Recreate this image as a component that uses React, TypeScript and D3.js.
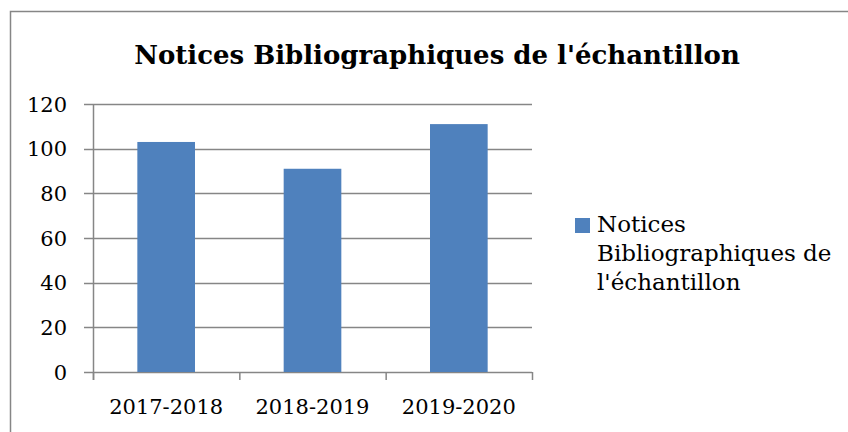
import React from "react";
import * as d3 from "d3";

const categories = ["2017-2018", "2018-2019", "2019-2020"];
const values = [103, 91, 111];
const yTicks = [0, 20, 40, 60, 80, 100, 120];
const seriesName = "Notices Bibliographiques de l'échantillon";
const legendLines = ["Notices", "Bibliographiques de", "l'échantillon"];

const W = 848;
const H = 432;
const FONT = "'DejaVu Serif', serif";

export default function App() {
  const left = 93;
  const right = 532;
  const top = 104;
  const bottom = 372;

  const x = d3.scaleBand<string>().domain(categories).range([left, right]).padding(0);
  const y = d3.scaleLinear().domain([0, 120]).range([bottom, top]);
  const barW = x.bandwidth() * 0.394;
  const tickXs = [left, ...categories.map((c) => (x(c) as number) + x.bandwidth())];

  return (
    <svg
      width={W}
      height={H}
      style={{ position: "absolute", left: 0, top: 0, background: "#fff" }}
    >
      <rect x={0} y={0} width={W} height={H} fill="#fff" />
      <rect x={10.5} y={11.5} width={W + 20} height={H + 20} fill="#fff" stroke="#868686" strokeWidth={1.5} />
      <text
        x={437}
        y={64}
        textAnchor="middle"
        fontFamily={FONT}
        fontWeight="bold"
        fontSize={26}
        fill="#000"
      >
        {seriesName}
      </text>
      {yTicks.map((t) => (
        <g key={t}>
          <line x1={84} x2={right} y1={Math.round(y(t)) + 0.5} y2={Math.round(y(t)) + 0.5} stroke="#868686" strokeWidth={1.5} />
          <text
            x={67}
            y={y(t) + 7.5}
            textAnchor="end"
            fontFamily={FONT}
            fontSize={21}
            fill="#000"
          >
            {t}
          </text>
        </g>
      ))}
      {categories.map((c, i) => {
        const cx = (x(c) as number) + x.bandwidth() / 2;
        return (
          <rect
            key={c}
            x={cx - barW / 2}
            y={y(values[i])}
            width={barW}
            height={y(0) - y(values[i])}
            fill="#4F81BD"
          />
        );
      })}
      <line x1={left + 0.5} x2={left + 0.5} y1={top} y2={bottom + 8} stroke="#868686" strokeWidth={1.5} />
      {tickXs.map((tx, i) => (
        <line key={i} x1={tx + 0.5} x2={tx + 0.5} y1={bottom} y2={bottom + 8} stroke="#868686" strokeWidth={1.5} />
      ))}
      {categories.map((c) => (
        <text
          key={c}
          x={(x(c) as number) + x.bandwidth() / 2}
          y={414}
          textAnchor="middle"
          fontFamily={FONT}
          fontSize={21}
          fill="#000"
        >
          {c}
        </text>
      ))}
      <rect x={575} y={218} width={15} height={15} fill="#4F81BD" />
      {legendLines.map((l, i) => (
        <text key={i} x={597} y={232 + i * 29} fontFamily={FONT} fontSize={23} fill="#000">
          {l}
        </text>
      ))}
    </svg>
  );
}
